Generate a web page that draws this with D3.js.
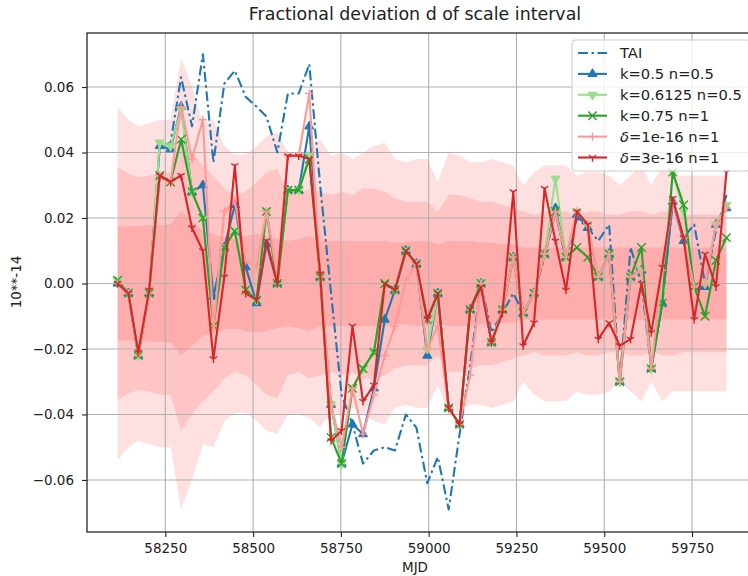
<!DOCTYPE html>
<html>
<head>
<meta charset="utf-8">
<script src="https://cdn.jsdelivr.net/npm/d3@7"></script>
<style>
body { margin: 0; background: #fff; }
svg { font-family: "DejaVu Sans", sans-serif; }
</style>
</head>
<body>
<svg id="chart" width="748" height="576"></svg>
<script>
// monthly MJD sample points
let mjd = [58114, 58145, 58173, 58204, 58234, 58265, 58295, 58326, 58357, 58387,
	58418, 58448, 58479, 58510, 58538, 58569, 58599, 58630, 58660, 58691,
	58722, 58752, 58783, 58813, 58844, 58875, 58904, 58935, 58965, 58996,
	59026, 59057, 59088, 59118, 59149, 59179, 59210, 59241, 59269, 59300,
	59330, 59361, 59391, 59422, 59453, 59483, 59514, 59544, 59575, 59606,
	59634, 59665, 59695, 59726, 59756, 59787, 59818, 59848];

let tai = [0.000, -0.003, -0.022, -0.003, 0.042, 0.043, 0.063, 0.048, 0.070, 0.037,
	0.061, 0.065, 0.057, 0.054, 0.051, 0.040, 0.058, 0.058, 0.067, 0.030,
	-0.003, -0.034, -0.043, -0.055, -0.051, -0.050, -0.051, -0.040, -0.044, -0.061,
	-0.053, -0.069, -0.046, -0.025, 0.000, -0.015, -0.009, -0.003, -0.009, -0.003,
	0.008, 0.022, 0.007, 0.020, 0.017, 0.013, 0.018, -0.030, 0.011, 0.000,
	-0.026, -0.006, 0.025, 0.014, 0.018, 0.000, 0.016, 0.027];

let k05 = [0.000, -0.003, -0.022, -0.003, 0.042, 0.041, 0.054, 0.028, 0.030, -0.004,
	0.011, 0.024, 0.005, -0.006, 0.012, 0.000, 0.0285, 0.0285, 0.048, 0.002,
	-0.037, -0.055, -0.043, -0.046, -0.032, -0.011, -0.002, 0.010, 0.006, -0.022,
	-0.003, -0.038, -0.043, -0.008, 0.000, -0.018, -0.008, 0.008, -0.009, -0.003,
	0.009, 0.023, 0.008, 0.021, 0.017, 0.002, 0.009, -0.030, 0.002, 0.004,
	-0.026, -0.006, 0.025, 0.013, -0.001, -0.001, 0.018, 0.023];

let k06125 = [0.001, -0.003, -0.022, -0.003, 0.043, 0.042, 0.053, 0.028, 0.020, -0.013,
	0.011, 0.016, -0.002, -0.005, 0.022, 0.000, 0.0285, 0.0285, 0.039, 0.002,
	-0.037, -0.055, -0.032, -0.026, -0.021, 0.000, -0.002, 0.010, 0.006, -0.020,
	-0.003, -0.038, -0.043, -0.008, 0.000, -0.018, -0.008, 0.008, -0.009, -0.003,
	0.009, 0.032, 0.008, 0.022, 0.018, 0.002, 0.009, -0.030, 0.002, 0.004,
	-0.026, -0.002, 0.034, 0.022, -0.001, 0.000, 0.018, 0.024];

let k075 = [0.001, -0.003, -0.022, -0.003, 0.033, 0.031, 0.044, 0.028, 0.020, -0.013,
	0.011, 0.016, -0.002, -0.005, 0.022, 0.000, 0.0285, 0.0285, 0.038, 0.002,
	-0.047, -0.055, -0.032, -0.026, -0.021, 0.000, -0.002, 0.010, 0.006, -0.011,
	-0.003, -0.038, -0.043, -0.008, 0.000, -0.018, -0.008, 0.008, -0.009, -0.003,
	0.009, 0.022, 0.008, 0.011, 0.008, 0.002, 0.009, -0.030, 0.002, 0.011,
	-0.026, -0.006, 0.034, 0.024, -0.001, -0.010, 0.007, 0.014];

let d1e16 = [0.000, -0.003, -0.022, -0.003, 0.033, 0.031, 0.054, 0.038, 0.050, -0.014,
	0.022, 0.025, 0.007, 0.005, 0.022, 0.002, 0.039, 0.039, 0.058, 0.002,
	-0.037, -0.050, -0.032, -0.046, -0.034, -0.022, -0.013, 0.001, 0.006, -0.020,
	-0.013, -0.038, -0.043, -0.028, 0.000, -0.018, -0.008, 0.008, -0.009, -0.003,
	0.009, 0.022, 0.008, 0.022, 0.018, 0.002, 0.009, -0.030, 0.002, 0.004,
	-0.026, 0.004, 0.025, 0.014, -0.001, 0.000, 0.018, 0.023];

let d3e16 = [0.000, -0.003, -0.021, -0.002, 0.033, 0.031, 0.033, 0.017, 0.010, -0.023,
	0.002, 0.036, -0.003, -0.005, 0.013, 0.000, 0.039, 0.039, 0.038, 0.003,
	-0.048, -0.045, -0.013, -0.036, -0.031, 0.000, -0.002, 0.010, 0.006, -0.011,
	-0.003, -0.038, -0.043, -0.008, -0.001, -0.018, -0.009, 0.028, -0.019, -0.012,
	0.029, 0.013, -0.002, 0.022, 0.018, -0.017, -0.012, -0.019, -0.017, 0.000,
	-0.015, 0.005, 0.026, 0.014, -0.011, 0.009, -0.001, 0.034];

// half widths of the shaded bands (symmetric about zero)
let bandOuter = [0.054, 0.050, 0.048, 0.049, 0.050, 0.050, 0.069, 0.060, 0.049, 0.050,
	0.042, 0.0395, 0.0395, 0.042, 0.045, 0.046, 0.040, 0.040, 0.041, 0.044,
	0.039, 0.040, 0.038, 0.040, 0.042, 0.043, 0.038, 0.037, 0.038, 0.038,
	0.031, 0.040, 0.039, 0.037, 0.037, 0.038, 0.037, 0.036, 0.030, 0.034,
	0.036, 0.036, 0.036, 0.033, 0.034, 0.034, 0.033, 0.030, 0.033, 0.036,
	0.030, 0.036, 0.033, 0.033, 0.033, 0.033, 0.033, 0.033];
let bandMiddle = [0.0356, 0.0335, 0.0325, 0.033, 0.034, 0.034, 0.045, 0.040, 0.036, 0.033,
	0.029, 0.027, 0.028, 0.031, 0.034, 0.035, 0.028, 0.027, 0.029, 0.028,
	0.027, 0.028, 0.027, 0.029, 0.029, 0.028, 0.026, 0.025, 0.025, 0.025,
	0.022, 0.027, 0.027, 0.026, 0.025, 0.025, 0.024, 0.023, 0.022, 0.021,
	0.022, 0.022, 0.022, 0.021, 0.022, 0.022, 0.021, 0.021, 0.022, 0.022,
	0.021, 0.022, 0.022, 0.021, 0.021, 0.021, 0.021, 0.021];
let bandInner = [0.0173, 0.0175, 0.0175, 0.0178, 0.0178, 0.018, 0.022, 0.019, 0.016, 0.015,
	0.014, 0.0137, 0.0145, 0.015, 0.0145, 0.0135, 0.013, 0.0135, 0.0145, 0.013,
	0.013, 0.013, 0.013, 0.013, 0.013, 0.013, 0.0125, 0.0125, 0.013, 0.013,
	0.012, 0.013, 0.013, 0.013, 0.0125, 0.0125, 0.012, 0.012, 0.011, 0.011,
	0.011, 0.011, 0.011, 0.011, 0.011, 0.011, 0.011, 0.011, 0.011, 0.011,
	0.011, 0.011, 0.011, 0.011, 0.011, 0.011, 0.011, 0.011];

let xTicks = [58250, 58500, 58750, 59000, 59250, 59500, 59750];
let yTicks = [-0.06, -0.04, -0.02, 0.00, 0.02, 0.04, 0.06];

let series = [
	{label: "TAI", values: tai, color: "#1f77b4", marker: null, dash: "10,3.5,2.5,3.5"},
	{label: "k=0.5 n=0.5", values: k05, color: "#1f77b4", marker: "up"},
	{label: "k=0.6125 n=0.5", values: k06125, color: "#98df8a", marker: "down"},
	{label: "k=0.75 n=1", values: k075, color: "#2ca02c", marker: "x"},
	{label: "=1e-16 n=1", delta: true, values: d1e16, color: "#ff9896", marker: "plus"},
	{label: "=3e-16 n=1", delta: true, values: d3e16, color: "#d62728", marker: "tri"}
];

let svg = d3.select("#chart");
let plotLeft = 87, plotRight = 757, plotTop = 33, plotBottom = 532;

let x = d3.scaleLinear().domain([58027, 59935]).range([plotLeft, plotRight]);
let y = d3.scaleLinear().domain([-0.0759, 0.0765]).range([plotBottom, plotTop]);

svg.append("defs").append("clipPath").attr("id", "plotclip")
	.append("rect").attr("x", plotLeft).attr("y", plotTop)
	.attr("width", plotRight - plotLeft).attr("height", plotBottom - plotTop);

let plot = svg.append("g").attr("clip-path", "url(#plotclip)");

// bands
for (let half of [bandOuter, bandMiddle, bandInner]) {
	let area = d3.area()
		.x((d, i) => x(mjd[i]))
		.y0((d, i) => y(-half[i]))
		.y1((d, i) => y(half[i]));
	plot.append("path")
		.attr("d", area(mjd))
		.attr("fill", "#ff0000")
		.attr("fill-opacity", 0.12);
}

// grid
plot.selectAll(".gx").data(xTicks).enter().append("line")
	.attr("x1", d => x(d)).attr("x2", d => x(d))
	.attr("y1", plotTop).attr("y2", plotBottom)
	.attr("stroke", "#b0b0b0").attr("stroke-width", 1.1);
plot.selectAll(".gy").data(yTicks).enter().append("line")
	.attr("x1", plotLeft).attr("x2", plotRight)
	.attr("y1", d => y(d)).attr("y2", d => y(d))
	.attr("stroke", "#b0b0b0").attr("stroke-width", 1.1);

function drawMarker(g, type, color, cx, cy) {
	let r = 4.2;
	if (type == "up" || type == "down") {
		g.append("path")
			.attr("d", d3.symbol().type(d3.symbolTriangle).size(36)())
			.attr("transform", "translate(" + cx + "," + cy + ")" + (type == "down" ? " rotate(180)" : ""))
			.attr("fill", color).attr("stroke", color).attr("stroke-width", 1);
	} else if (type == "x") {
		g.append("path")
			.attr("d", `M${cx - r},${cy - r}L${cx + r},${cy + r}M${cx - r},${cy + r}L${cx + r},${cy - r}`)
			.attr("stroke", color).attr("stroke-width", 1.4).attr("fill", "none");
	} else if (type == "plus") {
		g.append("path")
			.attr("d", `M${cx - r},${cy}L${cx + r},${cy}M${cx},${cy - r}L${cx},${cy + r}`)
			.attr("stroke", color).attr("stroke-width", 1.4).attr("fill", "none");
	} else if (type == "tri") {
		g.append("path")
			.attr("d", `M${cx},${cy}L${cx},${cy + r}M${cx},${cy}L${cx - r * 0.866},${cy - r * 0.5}M${cx},${cy}L${cx + r * 0.866},${cy - r * 0.5}`)
			.attr("stroke", color).attr("stroke-width", 1.4).attr("fill", "none");
	}
}

let line = d3.line().x((d, i) => x(mjd[i])).y(d => y(d));

for (let s of series) {
	let g = plot.append("g");
	g.append("path")
		.attr("d", line(s.values))
		.attr("fill", "none")
		.attr("stroke", s.color)
		.attr("stroke-width", 2.1)
		.attr("stroke-linejoin", "round")
		.attr("stroke-dasharray", s.dash || null);
	if (s.marker) {
		s.values.forEach((v, i) => drawMarker(g, s.marker, s.color, x(mjd[i]), y(v)));
	}
}

// frame
svg.append("rect")
	.attr("x", plotLeft).attr("y", plotTop)
	.attr("width", plotRight - plotLeft).attr("height", plotBottom - plotTop)
	.attr("fill", "none").attr("stroke", "#000").attr("stroke-width", 1.1);

// axes
let xAxis = svg.append("g").attr("transform", "translate(0," + plotBottom + ")")
	.call(d3.axisBottom(x).tickValues(xTicks).tickFormat(d3.format("d")).tickSize(5).tickPadding(6));
let yAxis = svg.append("g").attr("transform", "translate(" + plotLeft + ",0)")
	.call(d3.axisLeft(y).tickValues(yTicks).tickFormat(d3.format(".2f")).tickSize(5).tickPadding(8));
for (let a of [xAxis, yAxis]) {
	a.select(".domain").remove();
	a.selectAll("text").attr("font-size", 13.5).attr("fill", "#222").attr("font-family", "DejaVu Sans");
	a.selectAll("line").attr("stroke", "#222").attr("stroke-width", 1.1);
}

svg.append("text")
	.attr("x", 415).attr("y", 20)
	.attr("text-anchor", "middle").attr("font-size", 17.4).attr("fill", "#222")
	.text("Fractional deviation d of scale interval");

svg.append("text")
	.attr("x", 415).attr("y", 572)
	.attr("text-anchor", "middle").attr("font-size", 13.5).attr("fill", "#222")
	.text("MJD");

svg.append("text")
	.attr("transform", "translate(21,282) rotate(-90)")
	.attr("text-anchor", "middle").attr("font-size", 13.5).attr("fill", "#222")
	.text("10**-14");

// legend
let leg = svg.append("g");
leg.append("rect")
	.attr("x", 572).attr("y", 40).attr("width", 178).attr("height", 131).attr("rx", 3)
	.attr("fill", "#fff").attr("fill-opacity", 0.8)
	.attr("stroke", "#cccccc").attr("stroke-width", 1);

series.forEach((s, i) => {
	let ly = 53 + i * 20.9;
	leg.append("line")
		.attr("x1", 578).attr("x2", 607).attr("y1", ly).attr("y2", ly)
		.attr("stroke", s.color).attr("stroke-width", 2.1)
		.attr("stroke-dasharray", s.dash || null);
	if (s.marker) drawMarker(leg, s.marker, s.color, 592.5, ly);
	let t = leg.append("text")
		.attr("x", 620).attr("y", ly + 5.3)
		.attr("font-size", 14.7).attr("fill", "#222");
	if (s.delta) {
		t.append("tspan").attr("font-style", "italic").text("δ");
	}
	t.append("tspan").text(s.label);
});
</script>
</body>
</html>
